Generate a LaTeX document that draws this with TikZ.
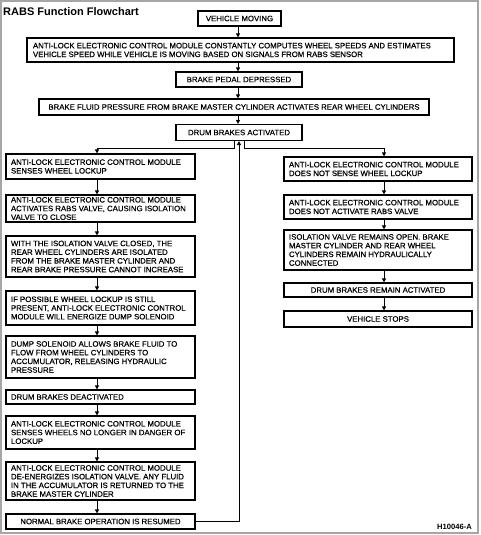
\documentclass[tikz,border=0pt]{standalone}
\usepackage{fontspec}
\setmainfont{Liberation Sans}
\newfontfamily\boxfont[FakeBold=0.6]{Liberation Sans}
\usetikzlibrary{arrows.meta}
\begin{document}
\begin{tikzpicture}[x=1pt,y=-1pt,
  box/.style={draw, line width=1.1pt, rectangle, inner xsep=5pt, inner ysep=0pt,
    font=\boxfont\fontsize{7.8}{8.7}\selectfont},
  lbox/.style={box, align=flush left},
  cbox/.style={box, align=center},
  conn/.style={line width=0.9pt},
  arr/.style={conn, -{Triangle[length=4pt,width=4pt]}}]
\useasboundingbox (0,0) rectangle (480,535);
\draw[gray!70, line width=1.2pt] (1,1) rectangle (478,533);

\node[font=\bfseries\fontsize{11}{13}\selectfont, anchor=base west, inner sep=0pt] (title) at (3,15.7) {RABS Function Flowchart};
\node[font=\bfseries\fontsize{7.6}{8}\selectfont, anchor=base east, inner sep=0pt] (code) at (472,529.5) {H10046-A};

% main column
\node[cbox, minimum width=83, minimum height=15] (V1) at (239.5,18.5) {VEHICLE MOVING};
\node[lbox, minimum width=427, minimum height=24, text width=415pt] (V2) at (240.5,50) {ANTI-LOCK ELECTRONIC CONTROL MODULE CONSTANTLY COMPUTES WHEEL SPEEDS AND ESTIMATES\\VEHICLE SPEED WHILE VEHICLE IS MOVING BASED ON SIGNALS FROM RABS SENSOR};
\node[cbox, minimum width=126, minimum height=15] (V3) at (239,79.5) {BRAKE PEDAL DEPRESSED};
\node[cbox, minimum width=390, minimum height=16] (V4) at (234,107) {BRAKE FLUID PRESSURE FROM BRAKE MASTER CYLINDER ACTIVATES REAR WHEEL CYLINDERS};
\node[cbox, minimum width=126, minimum height=16] (V5) at (239,132.5) {DRUM BRAKES ACTIVATED};

% left column
\node[lbox, minimum width=189, minimum height=25, text width=179pt] (L1) at (100.5,166.5) {ANTI-LOCK ELECTRONIC CONTROL MODULE\\SENSES WHEEL LOCKUP};
\node[lbox, minimum width=189, minimum height=27, text width=179pt] (L2) at (100.5,208.5) {ANTI-LOCK ELECTRONIC CONTROL MODULE\\ACTIVATES RABS VALVE, CAUSING ISOLATION\\VALVE TO CLOSE};
\node[lbox, minimum width=189, minimum height=41, text width=179pt] (L3) at (100.5,256.5) {WITH THE ISOLATION VALVE CLOSED, THE\\REAR WHEEL CYLINDERS ARE ISOLATED\\FROM THE BRAKE MASTER CYLINDER AND\\REAR BRAKE PRESSURE CANNOT INCREASE};
\node[lbox, minimum width=189, minimum height=34, text width=179pt] (L4) at (100.5,308) {IF POSSIBLE WHEEL LOCKUP IS STILL\\PRESENT, ANTI-LOCK ELECTRONIC CONTROL\\MODULE WILL ENERGIZE DUMP SOLENOID};
\node[lbox, minimum width=189, minimum height=42, text width=179pt] (L5) at (100.5,357) {DUMP SOLENOID ALLOWS BRAKE FLUID TO\\FLOW FROM WHEEL CYLINDERS TO\\ACCUMULATOR, RELEASING HYDRAULIC\\PRESSURE};
\node[lbox, minimum width=189, minimum height=14, text width=179pt] (L6) at (100.5,397) {DRUM BRAKES DEACTIVATED};
\node[lbox, minimum width=189, minimum height=33, text width=179pt] (L7) at (100.5,432.5) {ANTI-LOCK ELECTRONIC CONTROL MODULE\\SENSES WHEELS NO LONGER IN DANGER OF\\LOCKUP};
\node[lbox, minimum width=189, minimum height=38, text width=179pt] (L8) at (100.5,481) {ANTI-LOCK ELECTRONIC CONTROL MODULE\\DE-ENERGIZES ISOLATION VALVE. ANY FLUID\\IN THE ACCUMULATOR IS RETURNED TO THE\\BRAKE MASTER CYLINDER};
\node[cbox, minimum width=189, minimum height=15] (L9) at (100.5,521.5) {NORMAL BRAKE OPERATION IS RESUMED};

% right column
\node[lbox, minimum width=188, minimum height=24, text width=178pt] (R1) at (378,169) {ANTI-LOCK ELECTRONIC CONTROL MODULE\\DOES NOT SENSE WHEEL LOCKUP};
\node[lbox, minimum width=188, minimum height=24, text width=178pt] (R2) at (378,207) {ANTI-LOCK ELECTRONIC CONTROL MODULE\\DOES NOT ACTIVATE RABS VALVE};
\node[lbox, minimum width=188, minimum height=40, text width=178pt] (R3) at (378,250) {ISOLATION VALVE REMAINS OPEN. BRAKE\\MASTER CYLINDER AND REAR WHEEL\\CYLINDERS REMAIN HYDRAULICALLY\\CONNECTED};
\node[cbox, minimum width=188, minimum height=14] (R4) at (378,290) {DRUM BRAKES REMAIN ACTIVATED};
\node[cbox, minimum width=188, minimum height=16] (R5) at (378,319) {VEHICLE STOPS};

% column x positions
\coordinate (mx) at (238,0);
\coordinate (ux) at (239,0);
\coordinate (lsx) at (234,0);
\coordinate (rsx) at (244,0);
\coordinate (lx) at (97,0);
\coordinate (rx) at (384,0);
\coordinate (sy) at (0,148);

% main connectors
\draw[arr] (V1.south -| mx) -- (V2.north -| mx);
\draw[arr] (V2.south -| mx) -- (V3.north -| mx);
\draw[arr] (V3.south -| mx) -- (V4.north -| mx);
\draw[arr] (V4.south -| mx) -- (V5.north -| mx);

% split
\draw[arr] (V5.south -| lsx) -- (sy -| lsx) -- (sy -| lx) -- (L1.north -| lx);
\draw[arr] (V5.south -| rsx) -- (sy -| rsx) -- (sy -| rx) -- (R1.north -| rx);

% left chain
\draw[arr] (L1.south -| lx) -- (L2.north -| lx);
\draw[arr] (L2.south -| lx) -- (L3.north -| lx);
\draw[arr] (L3.south -| lx) -- (L4.north -| lx);
\draw[arr] (L4.south -| lx) -- (L5.north -| lx);
\draw[arr] (L5.south -| lx) -- (L6.north -| lx);
\draw[arr] (L6.south -| lx) -- (L7.north -| lx);
\draw[arr] (L7.south -| lx) -- (L8.north -| lx);
\draw[arr] (L8.south -| lx) -- (L9.north -| lx);

% return
\draw[arr] (L9.east) -| (V5.south -| ux);

% right chain
\draw[arr] (R1.south -| rx) -- (R2.north -| rx);
\draw[arr] (R2.south -| rx) -- (R3.north -| rx);
\draw[arr] (R3.south -| rx) -- (R4.north -| rx);
\draw[arr] (R4.south -| rx) -- (R5.north -| rx);
\end{tikzpicture}
\end{document}
